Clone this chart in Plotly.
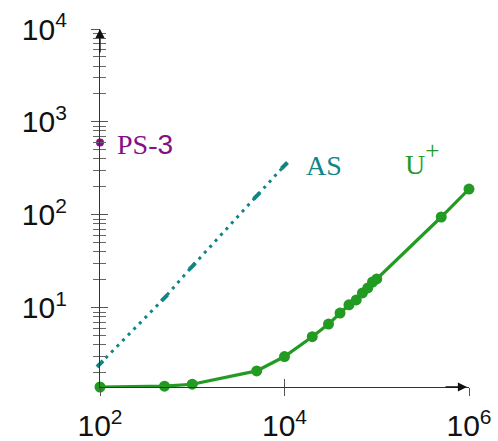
import math
import plotly.graph_objects as go

# Series values
ups_x = [100, 500, 1000, 5000, 10000, 20000, 30000, 40000, 50000,
         60000, 70000, 80000, 90000, 100000, 500000, 1000000]
ups_y = [1.41, 1.44, 1.51, 2.1, 3.0, 4.9, 6.7, 8.8, 10.8,
         12.2, 14.5, 16.4, 19.0, 20.5, 95, 190]

as_x = [100, 500, 1000, 5000, 10000]
as_y = [2.5, 12.8, 28, 160, 340]

ps_x = [100]
ps_y = [600]

# Tick labels
x_tickvals = [100, 10000, 1000000]
x_ticktext = ["10<sup>2</sup>", "10<sup>4</sup>", "10<sup>6</sup>"]
y_tickvals = [10, 100, 1000, 10000]
y_ticktext = ["10<sup>1</sup>", "10<sup>2</sup>", "10<sup>3</sup>", "10<sup>4</sup>"]
y_minor = [m * 10 ** e for e in range(0, 4) for m in range(2, 10) if m * 10 ** e >= 1.5]

GREEN = "#239b23"
TEAL = "#108585"
PURPLE = "#850f85"
AXIS = "#333333"

x_range = [2, 6]
y_range = [math.log10(min(ups_y)), 4]

fig = go.Figure()

fig.add_trace(go.Scatter(
    x=as_x, y=as_y, mode="lines+markers",
    line=dict(color=TEAL, width=3, dash="3px,5px"),
    marker=dict(symbol="line-ne", size=6, line=dict(color=TEAL, width=4)),
    cliponaxis=False, showlegend=False,
))
fig.add_trace(go.Scatter(
    x=ups_x, y=ups_y, mode="lines+markers",
    line=dict(color=GREEN, width=3.2),
    marker=dict(symbol="circle", size=11, color=GREEN),
    cliponaxis=False, showlegend=False,
))
fig.add_trace(go.Scatter(
    x=ps_x, y=ps_y, mode="markers",
    marker=dict(symbol="circle", size=8, color=PURPLE),
    cliponaxis=False, showlegend=False,
))

tick_font = dict(family="Liberation Sans", size=30, color="#111111")

fig.update_layout(
    width=498, height=441,
    margin=dict(l=100, r=29, t=29, b=54),
    paper_bgcolor="white", plot_bgcolor="white",
    xaxis=dict(
        type="log", range=x_range, showgrid=False, zeroline=False, automargin=False,
        showline=True, linecolor=AXIS, linewidth=1.3,
        tickmode="array", tickvals=x_tickvals, ticktext=x_ticktext,
        ticks="outside", ticklen=8, tickwidth=1, tickcolor="#555555",
        tickfont=tick_font, ticklabelstandoff=4,
    ),
    xaxis2=dict(
        type="log", range=x_range, overlaying="x", side="bottom", automargin=False,
        showgrid=False, zeroline=False, showline=False,
        tickmode="array", tickvals=x_tickvals, showticklabels=False,
        ticks="inside", ticklen=8, tickwidth=1, tickcolor="#555555",
    ),
    yaxis=dict(
        type="log", range=y_range, showgrid=False, zeroline=False, automargin=False,
        showline=True, linecolor=AXIS, linewidth=1.3,
        tickmode="array", tickvals=y_tickvals, ticktext=y_ticktext,
        ticks="outside", ticklen=8, tickwidth=1, tickcolor="#555555",
        minor=dict(tickvals=y_minor, ticks="outside", ticklen=6,
                   tickwidth=1, tickcolor="#666666"),
        tickfont=tick_font, ticklabelstandoff=18,
    ),
    yaxis2=dict(
        type="log", range=y_range, overlaying="y", side="left", automargin=False,
        showgrid=False, zeroline=False, showline=False,
        tickmode="array", tickvals=y_tickvals, showticklabels=False,
        ticks="inside", ticklen=8, tickwidth=1, tickcolor="#555555",
        minor=dict(tickvals=y_minor, ticks="inside", ticklen=6,
                   tickwidth=1, tickcolor="#666666"),
    ),
)

# An invisible trace to bring the mirror axes into the figure
fig.add_trace(go.Scatter(x=[ps_x[0]], y=[ps_y[0]], xaxis="x2", yaxis="y2",
                         mode="markers", marker=dict(opacity=0),
                         hoverinfo="skip", showlegend=False))

# Arrow heads at the ends of both axes
fig.add_annotation(x=1, y=0, xref="x domain", yref="y domain", ax=-25, ay=0,
                   text="", showarrow=True, arrowhead=2, arrowsize=1.4,
                   arrowwidth=1.3, arrowcolor="#111111", standoff=2)
fig.add_annotation(x=0, y=1, xref="x domain", yref="y domain", ax=0, ay=25,
                   text="", showarrow=True, arrowhead=2, arrowsize=1.4,
                   arrowwidth=1.3, arrowcolor="#111111", standoff=0)

# Series labels
serif = "Liberation Serif"
fig.add_annotation(x=math.log10(ps_x[0]), y=math.log10(ps_y[0]),
                   text='PS-<span style="font-family:Liberation Sans">3</span>',
                   showarrow=False, xanchor="left", yanchor="middle", xshift=15, yshift=-2,
                   font=dict(family=serif, size=28, color=PURPLE))
fig.add_annotation(x=math.log10(as_x[-1]), y=math.log10(as_y[-1]), text="AS",
                   showarrow=False, xanchor="left", yanchor="middle", xshift=19, yshift=0,
                   font=dict(family=serif, size=28, color=TEAL))
fig.add_annotation(x=math.log10(1.92e5), y=math.log10(400),
                   text='U<span style="font-size:36px"><sup>+</sup></span>',
                   showarrow=False, xanchor="left", yanchor="middle",
                   font=dict(family=serif, size=28, color=GREEN))

fig.write_html("out.html")
